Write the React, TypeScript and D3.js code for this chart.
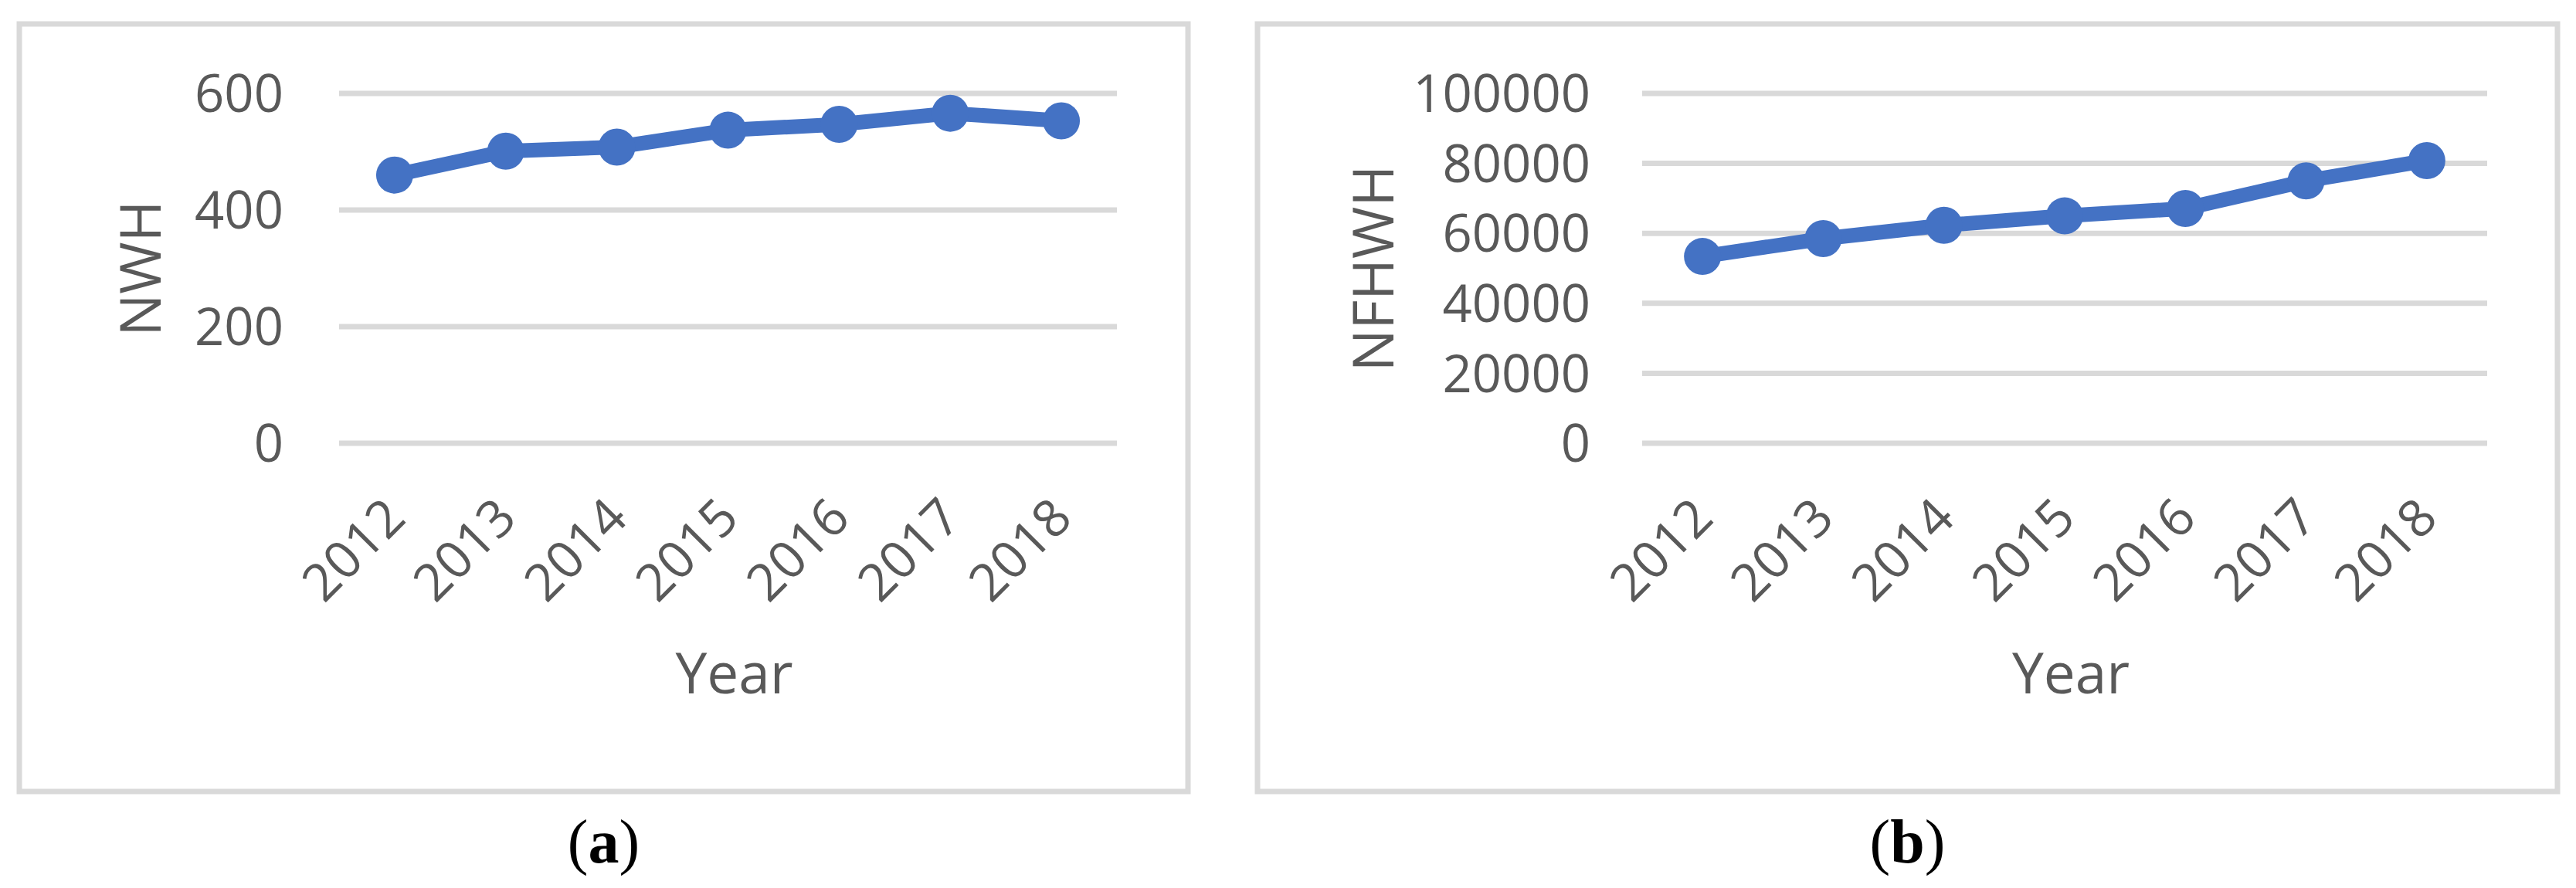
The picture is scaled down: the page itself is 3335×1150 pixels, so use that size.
import React from 'react';
import * as d3 from 'd3';

const years = ['2012', '2013', '2014', '2015', '2016', '2017', '2018'];
const nwh = [460, 501, 508, 537, 547, 566, 553];
const nfhwh = [53400, 58500, 62300, 65000, 67100, 75000, 80800];
const nwhTicks = [0, 200, 400, 600];
const nfhwhTicks = [0, 20000, 40000, 60000, 80000, 100000];

const FONT = "'Open Sans', 'Liberation Sans', sans-serif";
const TEXT = '#595959';
const GRID = '#d9d9d9';
const BLUE = '#4472c4';

interface PanelProps {
  box: [number, number, number, number];
  xRange: [number, number];
  yRange: [number, number];
  values: number[];
  ticks: number[];
  maxY: number;
  title: string;
  titleX: number;
  labelGap: number;
  caption: string;
}

const Panel: React.FC<PanelProps> = ({ box, xRange, yRange, values, ticks, maxY, title, titleX, labelGap, caption }) => {
  const x = d3.scaleBand<string>().domain(years).range(xRange);
  const y = d3.scaleLinear().domain([0, maxY]).range([yRange[1], yRange[0]]);
  const cx = (d: string) => (x(d) ?? 0) + x.bandwidth() / 2;
  const line = d3.line<number>()
    .x((_, i) => cx(years[i]))
    .y(d => y(d));
  const [bx0, by0, bx1, by1] = box;
  const midX = (xRange[0] + xRange[1]) / 2;
  const midY = (yRange[0] + yRange[1]) / 2;

  return (
    <g>
      <rect x={bx0} y={by0} width={bx1 - bx0} height={by1 - by0} fill="#fff" stroke={GRID} strokeWidth={7} />
      {ticks.map(t => (
        <g key={t}>
          <line x1={xRange[0]} x2={xRange[1]} y1={y(t)} y2={y(t)} stroke={GRID} strokeWidth={7} />
          <text x={xRange[0] - labelGap} y={y(t)} dy="0.36em" textAnchor="end" fontSize={67} fill={TEXT} fontFamily={FONT}>
            {t}
          </text>
        </g>
      ))}
      {years.map(yr => (
        <text key={yr} transform={`translate(${cx(yr)},${yRange[1] + 83}) rotate(-45)`} dy="0.36em" textAnchor="end" fontSize={67} fill={TEXT} fontFamily={FONT}>
          {yr}
        </text>
      ))}
      <path d={line(values) ?? ''} fill="none" stroke={BLUE} strokeWidth={19} strokeLinejoin="round" />
      {values.map((v, i) => (
        <circle key={i} cx={cx(years[i])} cy={y(v)} r={24} fill={BLUE} />
      ))}
      <text transform={`translate(${titleX},${midY}) rotate(-90)`} textAnchor="middle" fontSize={73} fill={TEXT} fontFamily={FONT}>
        {title}
      </text>
      <text x={midX + 8} y={898} textAnchor="middle" fontSize={73} fill={TEXT} fontFamily={FONT}>
        Year
      </text>
      <text x={(bx0 + bx1) / 2} y={1117} textAnchor="middle" fontSize={80} fill="#000" fontFamily="'Liberation Serif', serif">
        (<tspan fontWeight="bold">{caption}</tspan>)
      </text>
    </g>
  );
};

export default function App() {
  return (
    <svg width={3335} height={1150} style={{ position: 'absolute', left: 0, top: 0, background: '#fff' }}>
      <rect width={3335} height={1150} fill="#fff" />
      <Panel box={[25, 31, 1538, 1025]} xRange={[439, 1446]} yRange={[121, 574]} values={nwh} ticks={nwhTicks} maxY={600}
        title="NWH" titleX={208} labelGap={72} caption="a" />
      <Panel box={[1628, 31, 3311, 1025]} xRange={[2126, 3220]} yRange={[121, 574]} values={nfhwh} ticks={nfhwhTicks} maxY={100000}
        title="NFHWH" titleX={1804} labelGap={67} caption="b" />
    </svg>
  );
}
